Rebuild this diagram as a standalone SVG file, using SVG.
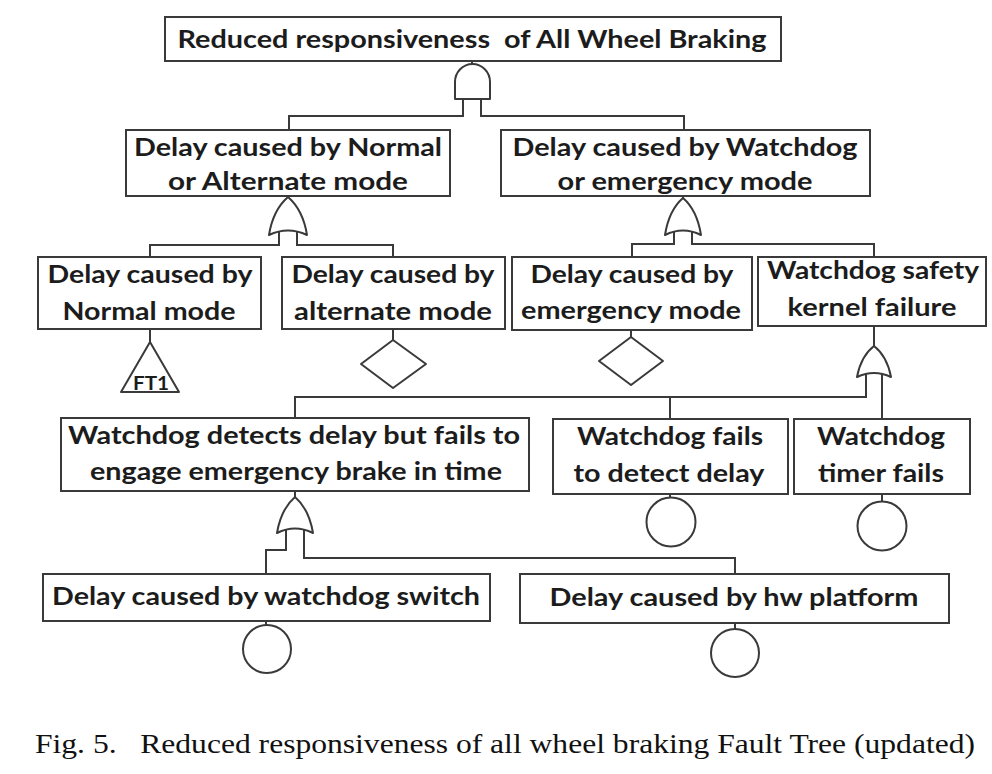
<svg xmlns="http://www.w3.org/2000/svg" width="992" height="774" viewBox="0 0 992 774">
<style>
.box{fill:#fff;stroke:#3a3a3a;stroke-width:2}
.t{font-family:Lato,"Open Sans","Liberation Sans",sans-serif;font-weight:700;font-size:25px;fill:#1c1c1c;text-anchor:middle}
.ln{fill:none;stroke:#3a3a3a;stroke-width:2}
.g{fill:#fff;stroke:#3a3a3a;stroke-width:2;stroke-linejoin:round}
.cap{font-family:"Liberation Serif","Times New Roman",serif;font-size:28px;fill:#111}
</style>
<rect width="992" height="774" fill="#fff"/>
<g id="connectors">
<path class="ln" d="M472,61 V64"/>
<path class="ln" d="M463,99 V116 H289 V130"/>
<path class="ln" d="M481,99 V116 H684 V130"/>
<path class="ln" d="M288,196 V198"/>
<path class="ln" d="M279,231 V245 H150 V257"/>
<path class="ln" d="M297,231 V245 H393 V257"/>
<path class="ln" d="M683,196 V198"/>
<path class="ln" d="M674,231 V244 H632 V257"/>
<path class="ln" d="M692,231 V244 H874 V257"/>
<path class="ln" d="M150,329 V342"/>
<path class="ln" d="M393,329 V340"/>
<path class="ln" d="M631,330 V337"/>
<path class="ln" d="M874,326 V346"/>
<path class="ln" d="M866,373 V397 H295 V418"/>
<path class="ln" d="M670,397 V419"/>
<path class="ln" d="M882,373 V419"/>
<path class="ln" d="M295,491 V497"/>
<path class="ln" d="M286,529 V550 H266 V574"/>
<path class="ln" d="M304,529 V558 H735 V574"/>
<path class="ln" d="M670,494 V498"/>
<path class="ln" d="M882,494 V502"/>
<path class="ln" d="M266,621 V625"/>
<path class="ln" d="M735,623 V629"/>
</g>
<g id="gates">
<path id="and_top" class="g" d="M455,99 V82 A17.5,18 0 0 1 490,82 V99 Z"/>
<path id="or_left" class="g" d="M269,235 Q273,210 288,197 Q303,210 307,235 Q288,226 269,235 Z"/>
<path id="or_right" class="g" d="M665,235 Q669,210 683,198 Q697,210 701,235 Q683,226 665,235 Z"/>
<path id="or_wsk" class="g" d="M857,377 Q861,356 874,346 Q887,356 891,377 Q874,369 857,377 Z"/>
<path id="or_wd" class="g" d="M277,533 Q281,509 295,497 Q309,509 313,533 Q295,524 277,533 Z"/>
</g>
<g id="n_top">
<rect class="box" x="165" y="17" width="616" height="44"/>
<text class="t" x="472" y="48" textLength="589" lengthAdjust="spacingAndGlyphs" style="white-space:pre">Reduced responsiveness  of All Wheel Braking</text>
</g>
<g id="n_normal_alt">
<rect class="box" x="126" y="130" width="324" height="66"/>
<text class="t" x="288" y="156" textLength="308" lengthAdjust="spacingAndGlyphs">Delay caused by Normal</text>
<text class="t" x="288" y="190" textLength="240" lengthAdjust="spacingAndGlyphs">or Alternate mode</text>
</g>
<g id="n_wd_emerg">
<rect class="box" x="501" y="130" width="369" height="66"/>
<text class="t" x="685" y="156" textLength="345" lengthAdjust="spacingAndGlyphs">Delay caused by Watchdog</text>
<text class="t" x="685" y="190" textLength="255" lengthAdjust="spacingAndGlyphs">or emergency mode</text>
</g>
<g id="n_normal">
<rect class="box" x="38" y="257" width="223" height="72"/>
<text class="t" x="150" y="283" textLength="205" lengthAdjust="spacingAndGlyphs">Delay caused by</text>
<text class="t" x="149" y="320" textLength="173" lengthAdjust="spacingAndGlyphs">Normal mode</text>
</g>
<g id="ft1">
<path class="g" d="M150,342 L179,392 H121 Z"/>
<text class="t" x="151" y="390" style="font-size:18px" textLength="36" lengthAdjust="spacingAndGlyphs">FT1</text>
</g>
<g id="n_alternate">
<rect class="box" x="282" y="257" width="223" height="72"/>
<text class="t" x="393" y="283" textLength="203" lengthAdjust="spacingAndGlyphs">Delay caused by</text>
<text class="t" x="393" y="320" textLength="198" lengthAdjust="spacingAndGlyphs">alternate mode</text>
</g>
<g id="d_alternate"><path class="g" d="M393,340 L426,364 L393,388 L361,364 Z"/></g>
<g id="n_emergency">
<rect class="box" x="512" y="257" width="240" height="73"/>
<text class="t" x="632" y="283" textLength="203" lengthAdjust="spacingAndGlyphs">Delay caused by</text>
<text class="t" x="631" y="319" textLength="220" lengthAdjust="spacingAndGlyphs">emergency mode</text>
</g>
<g id="d_emergency"><path class="g" d="M631,337 L663,361 L631,385 L599,361 Z"/></g>
<g id="n_wsk">
<rect class="box" x="758" y="257" width="228" height="69"/>
<text class="t" x="873" y="279" textLength="212" lengthAdjust="spacingAndGlyphs">Watchdog safety</text>
<text class="t" x="872" y="316" textLength="169" lengthAdjust="spacingAndGlyphs">kernel failure</text>
</g>
<g id="n_detects">
<rect class="box" x="61" y="418" width="468" height="73"/>
<text class="t" x="294" y="444" textLength="452" lengthAdjust="spacingAndGlyphs">Watchdog detects delay but fails to</text>
<text class="t" x="296" y="480" textLength="412" lengthAdjust="spacingAndGlyphs">engage emergency brake in time</text>
</g>
<g id="n_fails_detect">
<rect class="box" x="553" y="419" width="235" height="75"/>
<text class="t" x="670" y="445" textLength="186" lengthAdjust="spacingAndGlyphs">Watchdog fails</text>
<text class="t" x="669" y="482" textLength="191" lengthAdjust="spacingAndGlyphs">to detect delay</text>
</g>
<g id="c_fails_detect"><circle class="g" cx="671" cy="522" r="24.5"/></g>
<g id="n_timer">
<rect class="box" x="794" y="419" width="176" height="75"/>
<text class="t" x="881" y="445" textLength="128" lengthAdjust="spacingAndGlyphs">Watchdog</text>
<text class="t" x="881" y="482" textLength="126" lengthAdjust="spacingAndGlyphs">timer fails</text>
</g>
<g id="c_timer"><circle class="g" cx="882" cy="526" r="24.5"/></g>
<g id="n_switch">
<rect class="box" x="43" y="574" width="447" height="47"/>
<text class="t" x="266" y="605" textLength="428" lengthAdjust="spacingAndGlyphs">Delay caused by watchdog switch</text>
</g>
<g id="c_switch"><circle class="g" cx="267" cy="649" r="24"/></g>
<g id="n_hw">
<rect class="box" x="520" y="574" width="429" height="49"/>
<text class="t" x="734" y="606" textLength="369" lengthAdjust="spacingAndGlyphs">Delay caused by hw platform</text>
</g>
<g id="c_hw"><circle class="g" cx="735" cy="653" r="24"/></g>
<text class="cap" x="35" y="753" textLength="940" lengthAdjust="spacingAndGlyphs" style="white-space:pre">Fig. 5.   Reduced responsiveness of all wheel braking Fault Tree (updated)</text>
</svg>
